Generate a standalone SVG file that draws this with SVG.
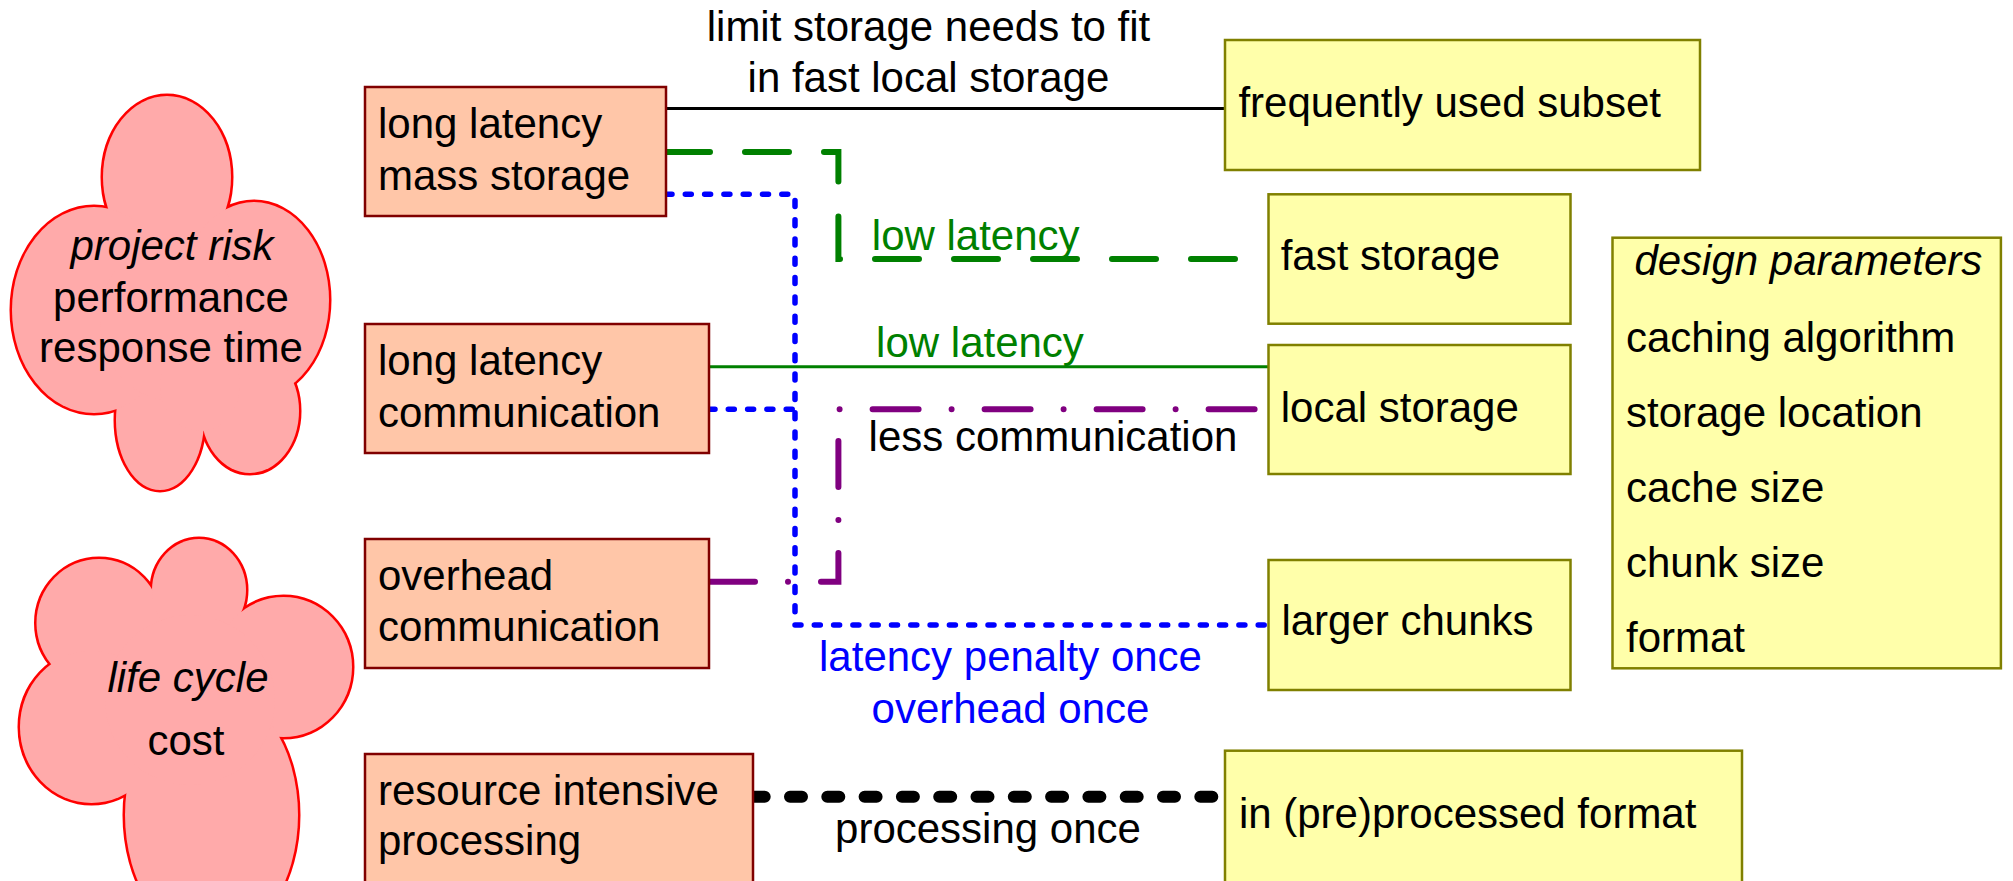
<svg xmlns="http://www.w3.org/2000/svg" width="2013" height="881" viewBox="0 0 2013 881">
<style>
text{font-family:"Liberation Sans",Arial,sans-serif;font-size:42px;fill:#000}
.it{font-style:italic}
.mid{text-anchor:middle}
.prob{fill:#FFC6A8;stroke:#800000;stroke-width:2.5}
.sol{fill:#FFFFAA;stroke:#808000;stroke-width:2.5}
.cl-s{fill:#FFAAAA;stroke:#FF0000;stroke-width:5}
.cl-f{fill:#FFAAAA;stroke:none}
.c{fill:none}
.blk{stroke:#000;stroke-width:3}
.grn{stroke:#008000;stroke-width:3}
.gdash{stroke:#008000;stroke-width:6;stroke-dasharray:44 35;stroke-linecap:round}
.bdot{stroke:#0000FF;stroke-width:5.5;stroke-dasharray:6 13.3;stroke-linecap:round}
.pdd{stroke:#800080;stroke-width:6;stroke-dasharray:46 33 0 33;stroke-linecap:round}
.kdot{stroke:#000;stroke-width:12;stroke-dasharray:12 25.3;stroke-linecap:round}
.g{fill:#008000}
.b{fill:#0000FF}
</style>
<defs>
<g id="lobes1">
<ellipse cx="167" cy="177" rx="64" ry="81"/>
<ellipse cx="254" cy="300" rx="75" ry="98"/>
<ellipse cx="250" cy="411" rx="49" ry="62"/>
<ellipse cx="160" cy="420" rx="44" ry="70"/>
<ellipse cx="94" cy="310" rx="82" ry="103"/>
</g>
<g id="lobes2">
<ellipse cx="99" cy="623" rx="62.5" ry="64"/>
<ellipse cx="199" cy="590" rx="47" ry="51"/>
<ellipse cx="283.5" cy="667" rx="68.5" ry="70"/>
<ellipse cx="211.5" cy="815" rx="86.5" ry="126"/>
<ellipse cx="91.5" cy="727" rx="71.5" ry="76"/>
</g>
</defs>
<g id="connectors">
<path class="c blk" d="M666,108.5 L1225,108.5"/>
<path class="c gdash" d="M666,152 L838.4,152 L838.4,259 L1268,259"/>
<path class="c grn" d="M709,366.7 L1268,366.7"/>
<path class="c bdot" d="M666,194.3 L795,194.3 L795,625 L1268,625"/>
<path class="c bdot" d="M709,409.3 L795,409.3"/>
<path class="c pdd" d="M709,581.7 L838.4,581.7 L838.4,409.3 L1268,409.3"/>
<path class="c kdot" d="M752.7,796.7 L1216,796.7"/>
<text class="mid" x="928.5" y="40.7">limit storage needs to fit</text>
<text class="mid" x="928.5" y="91.7">in fast local storage</text>
<text class="mid g" x="975.7" y="250">low latency</text>
<text class="mid g" x="980" y="357">low latency</text>
<text class="mid" x="1053" y="451">less communication</text>
<text class="mid b" x="1010.5" y="670.7">latency penalty once</text>
<text class="mid b" x="1010.5" y="722.7">overhead once</text>
<text class="mid" x="988" y="843">processing once</text>
</g>
<g id="cloud-performance">
<use href="#lobes1" class="cl-s"/>
<use href="#lobes1" class="cl-f"/>
<ellipse class="cl-f" cx="170" cy="320" rx="70" ry="80"/>
<ellipse class="cl-f" cx="200" cy="385" rx="40" ry="46"/>
<text class="mid it" x="172" y="260">project risk</text>
<text class="mid" x="171" y="312">performance</text>
<text class="mid" x="171" y="362">response time</text>
</g>
<g id="cloud-cost">
<use href="#lobes2" class="cl-s"/>
<use href="#lobes2" class="cl-f"/>
<ellipse class="cl-f" cx="190" cy="700" rx="85" ry="85"/>
<text class="mid it" x="188" y="691.7">life cycle</text>
<text class="mid" x="186" y="755">cost</text>
</g>
<g id="mass-storage">
<rect class="prob" x="365" y="87" width="301" height="129"/>
<text x="378" y="138">long latency</text>
<text x="378" y="190">mass storage</text>
</g>
<g id="long-latency-communication">
<rect class="prob" x="365" y="324" width="344" height="129"/>
<text x="378" y="375">long latency</text>
<text x="378" y="427">communication</text>
</g>
<g id="overhead-communication">
<rect class="prob" x="365" y="539" width="344" height="129"/>
<text x="378" y="590">overhead</text>
<text x="378" y="641">communication</text>
</g>
<g id="resource-intensive-processing">
<rect class="prob" x="365" y="754" width="388" height="140"/>
<text x="378" y="805">resource intensive</text>
<text x="378" y="855">processing</text>
</g>
<g id="frequently-used-subset">
<rect class="sol" x="1225" y="40" width="475" height="130"/>
<text x="1238.4" y="116.7">frequently used subset</text>
</g>
<g id="fast-storage">
<rect class="sol" x="1268.5" y="194.3" width="302" height="129.4"/>
<text x="1280.7" y="270">fast storage</text>
</g>
<g id="local-storage">
<rect class="sol" x="1268.5" y="345" width="302" height="129"/>
<text x="1280.7" y="421.7">local storage</text>
</g>
<g id="larger-chunks">
<rect class="sol" x="1268.5" y="560" width="302" height="130"/>
<text x="1281.4" y="635">larger chunks</text>
</g>
<g id="preprocessed-format">
<rect class="sol" x="1225" y="750.7" width="517" height="140"/>
<text x="1238.9" y="828.3">in (pre)processed format</text>
</g>
<g id="design-parameters">
<rect class="sol" x="1612.5" y="237.7" width="388.4" height="430.6"/>
<text class="it" x="1634.4" y="275">design parameters</text>
<text x="1626" y="351.7">caching algorithm</text>
<text x="1626" y="426.7">storage location</text>
<text x="1626" y="501.7">cache size</text>
<text x="1626" y="576.7">chunk size</text>
<text x="1626" y="651.7">format</text>
</g>
</svg>
